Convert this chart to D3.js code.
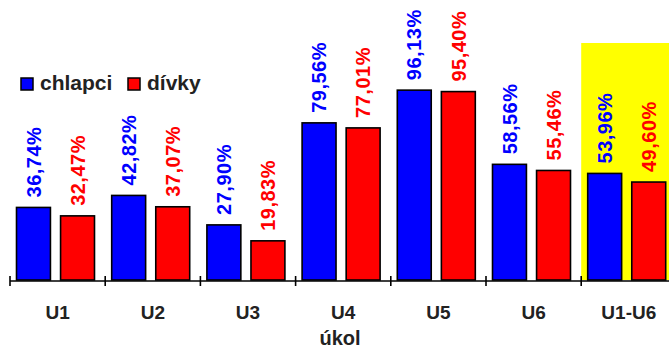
<!DOCTYPE html>
<html>
<head>
<meta charset="utf-8">
<script src="https://cdn.jsdelivr.net/npm/d3@7"></script>
<style>
  html, body { margin: 0; padding: 0; background: #fff; }
  svg { display: block; font-family: "Liberation Sans", Arial, sans-serif; }
</style>
</head>
<body>
<svg id="chart" width="669" height="355"></svg>
<script>
// Task success rates per task (úkol), boys vs. girls, in percent
const categories = ["U1", "U2", "U3", "U4", "U5", "U6", "U1-U6"];
const seriesNames = ["chlapci", "dívky"];
const chlapci = [36.74, 42.82, 27.90, 79.56, 96.13, 58.56, 53.96];
const divky = [32.47, 37.07, 19.83, 77.01, 95.40, 55.46, 49.60];
const valueLabels = {
  chlapci: ["36,74%", "42,82%", "27,90%", "79,56%", "96,13%", "58,56%", "53,96%"],
  "dívky": ["32,47%", "37,07%", "19,83%", "77,01%", "95,40%", "55,46%", "49,60%"]
};
const highlighted = "U1-U6";
const colors = ["#0000ff", "#ff0000"];

const svg = d3.select("#chart");
const axisY = 280;
const plotTop = 43;
const step = 95.2;
const x0 = 10;

const x = d3.scaleBand()
  .domain(categories)
  .range([x0, x0 + step * categories.length])
  .paddingInner(0).paddingOuter(0);

const xSub = d3.scaleBand()
  .domain(seriesNames)
  .range([6.5, 84.5])
  .paddingInner(0.23);

const y = d3.scaleLinear().domain([0, 120]).range([axisY, plotTop]);
const color = d3.scaleOrdinal().domain(seriesNames).range(colors);

const rows = categories.map((c, i) => ({
  category: c,
  values: [
    { series: "chlapci", value: chlapci[i], label: valueLabels.chlapci[i] },
    { series: "dívky", value: divky[i], label: valueLabels["dívky"][i] }
  ]
}));

// highlighted summary column background
svg.append("rect")
  .attr("x", x(highlighted))
  .attr("y", y.range()[1])
  .attr("width", x.bandwidth())
  .attr("height", axisY - y.range()[1])
  .attr("fill", "#ffff00");

const groups = svg.selectAll("g.cat")
  .data(rows)
  .join("g")
  .attr("class", "cat")
  .attr("transform", d => `translate(${x(d.category)},0)`);

groups.selectAll("rect")
  .data(d => d.values)
  .join("rect")
  .attr("x", d => xSub(d.series))
  .attr("y", d => y(d.value))
  .attr("width", xSub.bandwidth())
  .attr("height", d => axisY - y(d.value))
  .attr("fill", d => color(d.series))
  .attr("stroke", "#000")
  .attr("stroke-width", 1.6);

groups.selectAll("text.val")
  .data(d => d.values)
  .join("text")
  .attr("class", "val")
  .attr("transform", d => `translate(${xSub(d.series) + xSub.bandwidth() / 2},${y(d.value) - 10}) rotate(-90)`)
  .attr("dy", "0.36em")
  .attr("text-anchor", "start")
  .attr("font-size", 20)
  .attr("letter-spacing", 0.5)
  .attr("font-weight", "bold")
  .attr("fill", d => color(d.series))
  .text(d => d.label);

// category axis with ticks crossing the line
const axis = d3.axisBottom(x).tickSize(0).tickFormat(d => d);
const axisG = svg.append("g")
  .attr("transform", `translate(0,${axisY + 1})`)
  .call(axis);
axisG.select(".domain").remove();
axisG.selectAll(".tick line").remove();
axisG.selectAll(".tick text")
  .attr("y", 0)
  .attr("dy", 0)
  .attr("transform", "translate(0,38)")
  .attr("font-size", 19)
  .attr("font-weight", "bold")
  .attr("font-family", "Liberation Sans, Arial, sans-serif")
  .attr("fill", "#222");

svg.append("line")
  .attr("x1", x0).attr("x2", 669)
  .attr("y1", axisY + 1).attr("y2", axisY + 1)
  .attr("stroke", "#000").attr("stroke-width", 1.6);

svg.selectAll("line.sep")
  .data(categories)
  .join("line")
  .attr("class", "sep")
  .attr("x1", d => x(d)).attr("x2", d => x(d))
  .attr("y1", axisY - 4).attr("y2", axisY + 6)
  .attr("stroke", "#000").attr("stroke-width", 1.6);

svg.append("text")
  .attr("x", 340)
  .attr("y", 345)
  .attr("text-anchor", "middle")
  .attr("font-size", 20)
  .attr("font-weight", "bold")
  .attr("fill", "#222")
  .text("úkol");

// legend
const legend = svg.append("g").attr("transform", "translate(21,78)");
const legendX = [0, 107];
const items = legend.selectAll("g")
  .data(seriesNames)
  .join("g")
  .attr("transform", (d, i) => `translate(${legendX[i]},0)`);
items.append("rect")
  .attr("width", 12).attr("height", 12)
  .attr("fill", d => color(d))
  .attr("stroke", "#000").attr("stroke-width", 1.5);
items.append("text")
  .attr("x", 19)
  .attr("y", 12)
  .attr("font-size", 21)
  .attr("font-weight", "bold")
  .attr("fill", "#222")
  .text(d => d);
</script>
</body>
</html>
